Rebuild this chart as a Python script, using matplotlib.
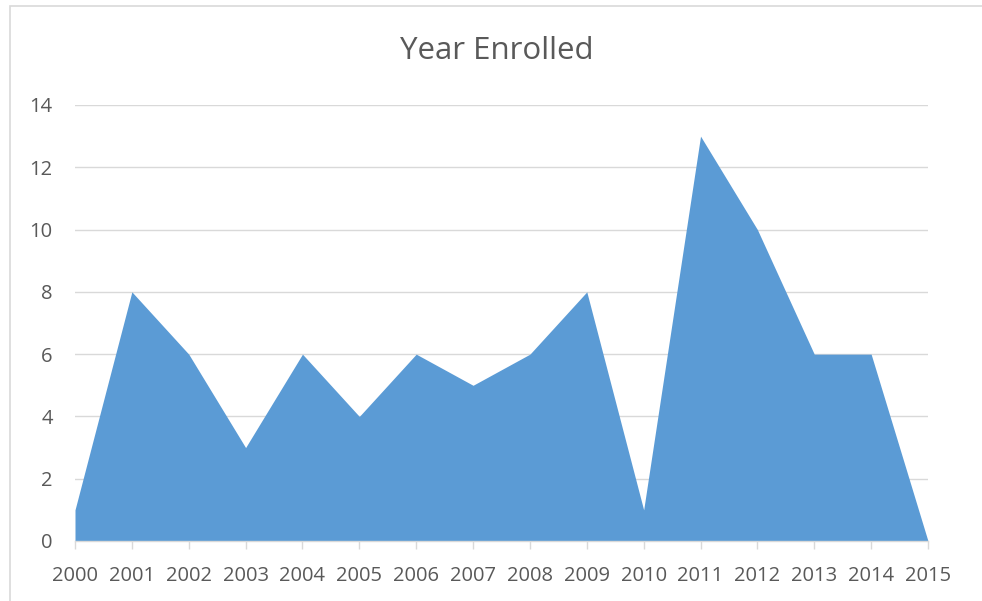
import matplotlib.pyplot as plt
from matplotlib.patches import Rectangle

plt.rcParams["font.family"] = ["Open Sans", "DejaVu Sans"]

years = ["2000", "2001", "2002", "2003", "2004", "2005", "2006", "2007",
         "2008", "2009", "2010", "2011", "2012", "2013", "2014", "2015"]
counts = [1, 8, 6, 3, 6, 4, 6, 5, 6, 8, 1, 13, 10, 6, 6, 0]

W, H = 982, 601
fig = plt.figure(figsize=(W / 100, H / 100), dpi=100)
# chart-area border: only left and top edges fall inside the crop
fig.patches.append(Rectangle((10 / W, -0.1), 1.2, 1 - 6 / H + 0.1,
                             transform=fig.transFigure, fill=False,
                             edgecolor="#d9d9d9", linewidth=1.2))

ax = fig.add_axes([75 / W, 1 - 541 / H, (928 - 75) / W, (541 - 105) / H])
x = list(range(len(years)))
ax.fill_between(x, counts, 0, color="#5b9bd5", linewidth=0, zorder=2)

ax.set_xlim(0, len(years) - 1)
ax.set_ylim(0, 14)
ax.set_yticks(range(0, 15, 2))
ax.set_xticks(x)
ax.set_xticklabels(years)

ax.grid(axis="y", color="#d9d9d9", linewidth=1, zorder=0)
ax.set_axisbelow(True)
for s in ("top", "right", "left"):
    ax.spines[s].set_visible(False)
ax.spines["bottom"].set_color("#d9d9d9")
ax.spines["bottom"].set_linewidth(1)
ax.spines["bottom"].set_zorder(3)

ax.tick_params(axis="x", colors="#d9d9d9", length=6, width=1, direction="out",
               labelcolor="#595959", labelsize=14.5, pad=12)
ax.tick_params(axis="y", length=0, labelcolor="#595959", labelsize=14.5, pad=16)

fig.text(497 / W, 1 - 51 / H, "Year Enrolled", ha="center", va="center",
         fontsize=22.5, color="#595959")

fig.savefig("out.png", dpi=100)
